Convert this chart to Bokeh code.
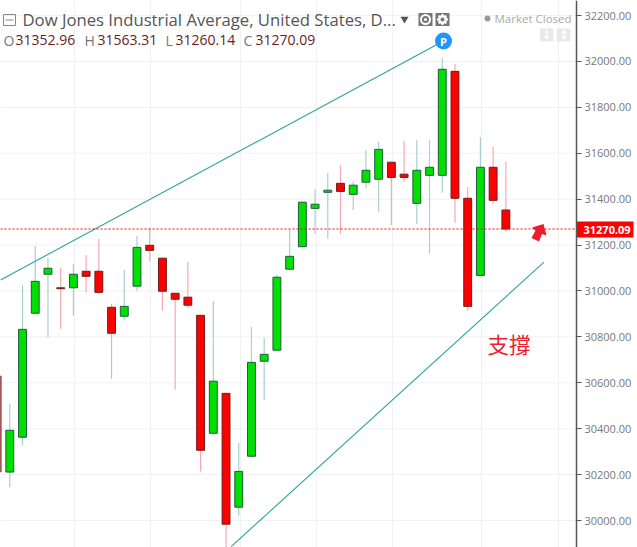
from bokeh.embed import file_html
from bokeh.models import ColumnDataSource, FixedTicker, Label, NumeralTickFormatter, Range1d
from bokeh.plotting import figure
from bokeh.resources import INLINE

# daily candles
days = list(range(-1, 40))
opens = [30630, 30211, 30363, 30903, 31073, 31014, 31014, 31086, 31086, 30929, 30890,
         31021, 31199, 31143, 30990, 30973, 30894, 30380, 30554, 30058, 30280, 30694,
         30742, 31095, 31193, 31360, 31430, 31469, 31421, 31474, 31487, 31561, 31509,
         31382, 31504, 31504, 31957, 31404, 31068, 31539, 31352.96]
closes = [30211, 30393, 30833, 31042, 31099, 31010, 31073, 31064, 30994, 30816, 30933,
          31190, 31177, 30999, 30964, 30938, 30306, 30607, 29984, 30214, 30689, 30724,
          31060, 31151, 31387, 31378, 31439, 31434, 31461, 31526, 31617, 31495, 31495,
          31526, 31539, 31966, 31404, 30933, 31539, 31395, 31270.09]
highs = [30630, 30508, 31026, 31196, 31144, 31100, 31118, 31157, 31227, 30943, 31092,
         31240, 31275, 31143, 30990, 31126, 30894, 30956, 30554, 30338, 30843, 30795,
         31070, 31266, 31387, 31444, 31514, 31549, 31479, 31614, 31649, 31561, 31654,
         31658, 31658, 32015, 31989, 31453, 31671, 31627, 31563.31]
lows = [30211, 30146, 30329, 30900, 30797, 30836, 30892, 30997, 30988, 30618, 30871,
        31001, 31128, 30914, 30570, 30927, 30213, 30380, 29880, 30021, 30280, 30526,
        30742, 31089, 31193, 31248, 31228, 31248, 31353, 31449, 31344, 31288, 31475,
        31292, 31163, 31428, 31298, 30914, 31068, 31380, 31260.14]

price_ticks = [30000, 30200, 30400, 30600, 30800, 31000, 31200, 31400, 31600, 31800, 32000, 32200]
grid_days = [5.1, 11.1, 18.1, 24.1, 30.1, 37.1, 43.1]

# trend lines drawn on the chart
upper_days = [-0.73, 34.1]
upper_prices = [31048, 32089]
lower_days = [17.4, 42.0]
lower_prices = [29886, 31126]

title = "Dow Jones Industrial Average, United States, D..."
last_price = 31270.09
axis_day = 44.55

GREEN, RED = "#00e000", "#ff0000"
up = [c >= o for o, c in zip(opens, closes)]
source = ColumnDataSource(dict(
    day=days,
    body_top=[max(o, c) for o, c in zip(opens, closes)],
    body_bottom=[min(o, c) for o, c in zip(opens, closes)],
    high=highs,
    low=lows,
    fill=[GREEN if u else RED for u in up],
    edge=["#1d5c3c" if u else "#701c1c" for u in up],
    wick=["#a8cfd3" if u else "#f6a8b4" for u in up],
))

# the plot area runs over the whole page, the price axis is pinned inside it
p = figure(width=637, height=547,
           x_range=Range1d(-0.731, 49.35), y_range=Range1d(29882.4, 32265.7),
           y_axis_location="right", output_backend="svg", toolbar_location=None,
           min_border=0, outline_line_color=None)

# second pair of ranges in page pixels, for the header widgets
p.extra_x_ranges = {"px": Range1d(0, 637)}
p.extra_y_ranges = {"px": Range1d(547, 0)}
px = dict(x_range_name="px", y_range_name="px")

p.xaxis.visible = False
p.xgrid.ticker = FixedTicker(ticks=grid_days)
p.xgrid.grid_line_color = "#f1f1f1"
p.ygrid.visible = False
p.segment([-0.731] * len(price_ticks), price_ticks, [axis_day] * len(price_ticks), price_ticks,
          line_color="#f1f1f1", line_width=1)

ax = p.yaxis[0]
ax.fixed_location = axis_day
ax.ticker = FixedTicker(ticks=price_ticks)
ax.formatter = NumeralTickFormatter(format="0.00")
ax.axis_line_color = "#555555"
ax.axis_line_width = 1.5
ax.major_tick_line_color = "#555555"
ax.major_tick_in = 0
ax.major_tick_out = 5
ax.minor_tick_line_color = None
ax.major_label_text_color = "#777777"
ax.major_label_text_font = "Open Sans"
ax.major_label_text_font_size = "11px"
ax.major_label_standoff = 3

p.segment("day", "high", "day", "low", source=source, line_color="wick", line_width=1.2)
p.vbar("day", 0.62, "body_top", "body_bottom", source=source, fill_color="fill", line_color="edge", line_width=1)

p.line(upper_days, upper_prices, line_color="#2fa58f", line_width=1.1)
p.line(lower_days, lower_prices, line_color="#2fa58f", line_width=1.1)
p.scatter([34.1], [32089], size=17, marker="circle", fill_color="#1e96fc", line_color=None)

# dotted last price line stops at the axis
p.line([-0.731, axis_day], [last_price, last_price], line_color="#ff0000", line_width=1, line_dash=[2, 2])

# red arrow
p.patch([543, 546, 541.5, 538.5, 531, 535, 531.5], [223.5, 235, 233.5, 241, 237.5, 230, 227],
        fill_color="#ee1c2e", line_color=None, **px)

# header widgets
p.quad(left=[3], right=[15], top=[14], bottom=[25], fill_color=None, line_color="#888888", **px)
p.segment([5], [19.5], [13], [19.5], line_color="#888888", **px)
p.scatter([404], [18.5], size=8, marker="inverted_triangle", fill_color="#555555", line_color=None, **px)
p.quad(left=[418, 435], right=[432, 449], top=[12.5, 12.5], bottom=[25.5, 25.5],
       fill_color="#777777", line_color=None, **px)
p.scatter([425], [19], size=9, marker="circle", fill_color=None, line_color="white", line_width=2, **px)
p.scatter([425], [19], size=3, marker="circle", fill_color="white", line_color=None, **px)
p.scatter([442], [19], size=9, marker="circle", fill_color="white", line_color=None, **px)
p.scatter([442], [19], size=11, marker="asterisk", line_color="white", line_width=2, **px)
p.scatter([442], [19], size=4, marker="circle", fill_color="#777777", line_color=None, **px)
p.scatter([487], [18], size=6, marker="circle", fill_color="#999999", line_color=None, **px)
p.quad(left=[539.5, 556], right=[553, 570], top=[28, 28], bottom=[41, 41],
       fill_color="#e9e9e9", line_color=None, **px)

# last price tag on the axis
p.quad(left=[576.5], right=[633], top=[221], bottom=[237], fill_color="#ff0000", line_color=None, **px)


def add_text(x, y, text, size, color, font="Open Sans", style="normal", align="left"):
    p.add_layout(Label(x=x, y=y, text=text, text_font_size=size, text_color=color, text_font=font,
                       text_font_style=style, text_align=align, text_baseline="middle", **px))


add_text(22, 19, title, "16.7px", "#555555")
ohlc_caps = [("O", 3, 31352.96, 15), ("H", 84, 31563.31, 97), ("L", 165, 31260.14, 175), ("C", 243, 31270.09, 255)]
for cap, cap_x, value, value_x in ohlc_caps:
    add_text(cap_x, 39.5, cap, "14px", "#777777")
    add_text(value_x, 39.5, "%.2f" % value, "14px", "#6b2222")
add_text(494, 18, "Market Closed", "11.5px", "#aaaaaa")
add_text(546, 34.5, "\u2193", "12px", "white", font="DejaVu Sans", style="bold", align="center")
add_text(563, 34.5, "\u2195", "12px", "white", font="DejaVu Sans", style="bold", align="center")
add_text(443, 41, "P", "11px", "white", style="bold", align="center")
add_text(487, 343, "\u652f\u6490", "21.5px", "#ee1c2e", font="Noto Sans CJK TC")
add_text(583, 229, "%.2f" % last_price, "11px", "white", style="bold")

open("out.html", "w").write(file_html(p, INLINE))
